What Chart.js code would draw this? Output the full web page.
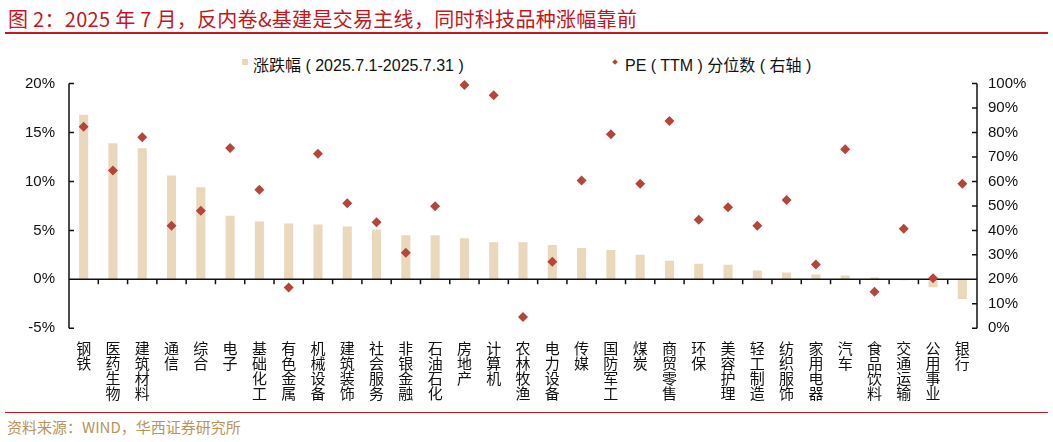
<!DOCTYPE html>
<html>
<head>
<meta charset="utf-8">
<script src="https://cdn.jsdelivr.net/npm/chart.js@4.4.1/dist/chart.umd.min.js"></script>
<style>
  html, body { margin: 0; padding: 0; background: #fff; }
  body { width: 1053px; height: 442px; position: relative; overflow: hidden; font-family: "Liberation Sans", "Noto Sans CJK SC", sans-serif; }
  #title { position: absolute; left: 8px; top: 4px; font-size: 20px; color: #C4161C; font-family: "Noto Sans CJK SC", sans-serif; white-space: nowrap; letter-spacing: 0.3px; }
  #topline { position: absolute; left: 5px; right: 5px; top: 32px; height: 2px; background: #C4161C; }
  #botline { position: absolute; left: 5px; right: 5px; top: 412px; height: 1px; background: #C4161C; }
  #source { position: absolute; left: 7px; top: 416px; font-size: 15px; color: #B8955A; font-family: "Noto Sans CJK SC", sans-serif; white-space: nowrap; }
  .leg { position: absolute; top: 52px; font-size: 16px; color: #111; white-space: pre; font-family: "Liberation Sans", "Noto Sans CJK SC", sans-serif; }
  .sq { position: absolute; left: 242px; top: 59px; width: 6px; height: 6px; background: #E9D8BC; }
  .dm { position: absolute; left: 613px; top: 60px; width: 4px; height: 4px; background: #B5443A; transform: rotate(45deg); }
  #wrap { position: absolute; left: 0; top: 40px; width: 1053px; height: 370px; }
</style>
</head>
<body>
<div id="title">图 2：2025 年 7 月，反内卷&amp;基建是交易主线，同时科技品种涨幅靠前</div>
<div id="topline"></div>
<div class="sq"></div>
<div class="leg" style="left:253px;">涨跌幅 ( 2025.7.1-2025.7.31 )</div>
<div class="dm"></div>
<div class="leg" style="left:625px;">PE ( TTM ) 分位数 ( 右轴 )</div>
<div id="wrap"><canvas id="chart" width="1053" height="370"></canvas></div>
<div id="botline"></div>
<div id="source">资料来源：WIND，华西证券研究所</div>

<script>
const industries = ['钢铁', '医药生物', '建筑材料', '通信', '综合', '电子', '基础化工', '有色金属', '机械设备', '建筑装饰',
    '社会服务', '非银金融', '石油石化', '房地产', '计算机', '农林牧渔', '电力设备', '传媒', '国防军工', '煤炭',
    '商贸零售', '环保', '美容护理', '轻工制造', '纺织服饰', '家用电器', '汽车', '食品饮料', '交通运输', '公用事业', '银行'];

// 涨跌幅 (%), left axis
const changePct = [16.8, 13.9, 13.4, 10.6, 9.4, 6.5, 5.9, 5.7, 5.6, 5.4,
    5.1, 4.5, 4.5, 4.2, 3.8, 3.8, 3.5, 3.2, 3.0, 2.5,
    1.9, 1.6, 1.5, 0.9, 0.7, 0.5, 0.4, 0.2, -0.1, -0.8, -2.0];

// PE(TTM) 分位数 (%), right axis
const pePct = [82.3, 64.5, 78.0, 41.9, 48.0, 73.7, 56.6, 16.7, 71.3, 51.1,
    43.3, 30.9, 49.9, 99.4, 95.2, 4.6, 27.2, 60.4, 79.3, 59.0,
    84.7, 44.3, 49.4, 41.9, 52.4, 26.1, 73.1, 14.9, 40.7, 20.4, 59.0];

const leftTicks = [-5, 0, 5, 10, 15, 20];
const rightTicks = [0, 10, 20, 30, 40, 50, 60, 70, 80, 90, 100];

const barColor = '#E9D8BC';
const dotColor = '#B5443A';

// axis lines, inward ticks and the zero line, drawn after the bars but before the diamonds
const axisDecor = {
    id: 'axisDecor',
    afterDatasetDraw(chart, args) {
        if (args.index !== 0) return;
        const { ctx, chartArea } = chart;
        const x = chart.scales.x, y = chart.scales.y, y1 = chart.scales.y1;
        ctx.save();
        ctx.strokeStyle = '#111';
        ctx.lineWidth = 1.5;
        ctx.beginPath();
        // left axis
        ctx.moveTo(chartArea.left, chartArea.top);
        ctx.lineTo(chartArea.left, chartArea.bottom);
        leftTicks.forEach(v => {
            const py = y.getPixelForValue(v);
            ctx.moveTo(chartArea.left, py);
            ctx.lineTo(chartArea.left + 5, py);
        });
        // right axis
        ctx.moveTo(chartArea.right, chartArea.top);
        ctx.lineTo(chartArea.right, chartArea.bottom);
        rightTicks.forEach(v => {
            const py = y1.getPixelForValue(v);
            ctx.moveTo(chartArea.right, py);
            ctx.lineTo(chartArea.right - 5, py);
        });
        // zero line with category separators
        const zy = y.getPixelForValue(0);
        ctx.moveTo(chartArea.left, zy);
        ctx.lineTo(chartArea.right, zy);
        for (let i = 1; i < industries.length; i++) {
            const px = x.getPixelForValue(i - 0.5);
            ctx.moveTo(px, zy);
            ctx.lineTo(px, zy + 5);
        }
        ctx.stroke();
        ctx.restore();
    }
};

const tickFont = { family: '"Liberation Sans", Arial, sans-serif', size: 15 };

new Chart(document.getElementById('chart'), {
    data: {
        labels: industries.map(s => s.split('')),
        datasets: [
            {
                type: 'bar',
                label: '涨跌幅（2025.7.1-2025.7.31）',
                data: changePct,
                yAxisID: 'y',
                backgroundColor: barColor,
                barPercentage: 0.31,
                categoryPercentage: 1,
                order: 2
            },
            {
                type: 'line',
                label: 'PE（TTM）分位数（右轴）',
                data: pePct,
                yAxisID: 'y1',
                showLine: false,
                clip: false,
                pointStyle: 'rectRot',
                pointRadius: 5,
                pointBackgroundColor: dotColor,
                pointBorderColor: dotColor,
                pointBorderWidth: 0,
                order: 1
            }
        ]
    },
    options: {
        responsive: false,
        animation: false,
        devicePixelRatio: 1,
        layout: { padding: { top: 43.5, left: 0, right: 0, bottom: 0 } },
        plugins: { legend: { display: false }, tooltip: { enabled: false } },
        scales: {
            x: {
                grid: { display: false, drawTicks: false },
                border: { display: false },
                ticks: {
                    autoSkip: false,
                    maxRotation: 0,
                    minRotation: 0,
                    padding: 12,
                    color: '#111',
                    font: { family: '"Noto Sans CJK SC", sans-serif', size: 15, lineHeight: 1.0 }
                },
                afterFit(scale) { scale.height = 81.7; }
            },
            y: {
                position: 'left',
                min: -5,
                max: 20,
                grid: { display: false, drawTicks: false },
                border: { display: false },
                ticks: {
                    stepSize: 5,
                    padding: 14,
                    color: '#111',
                    font: tickFont,
                    callback: v => v + '%'
                },
                afterFit(scale) { scale.width = 69; }
            },
            y1: {
                position: 'right',
                min: 0,
                max: 100,
                grid: { display: false, drawTicks: false },
                border: { display: false },
                ticks: {
                    stepSize: 10,
                    padding: 11,
                    color: '#111',
                    font: tickFont,
                    callback: v => v + '%'
                },
                afterFit(scale) { scale.width = 76; }
            }
        }
    },
    plugins: [axisDecor]
});
</script>
</body>
</html>
